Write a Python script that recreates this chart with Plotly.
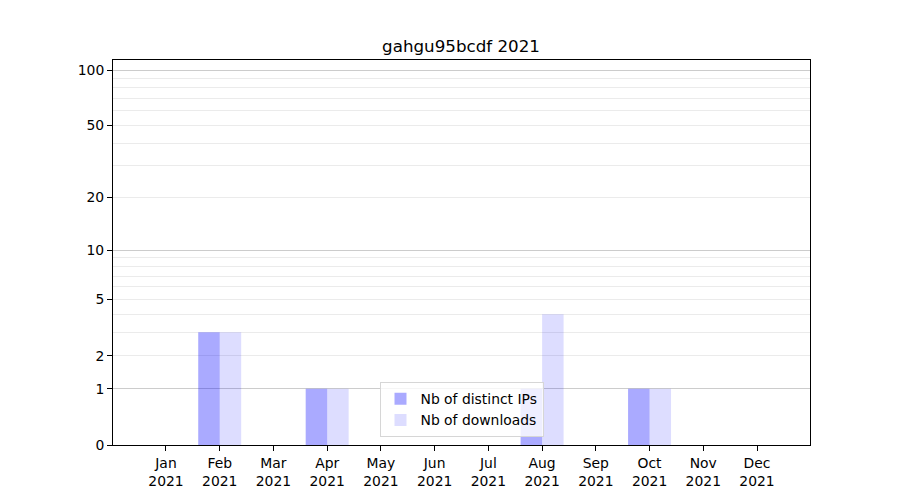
import numpy as np
import plotly.graph_objects as go

months = ["Jan", "Feb", "Mar", "Apr", "May", "Jun", "Jul", "Aug", "Sep", "Oct", "Nov", "Dec"]
year = "2021"
distinct_ips = [0, 3, 0, 1, 0, 0, 0, 1, 0, 1, 0, 0]
downloads = [0, 3, 0, 1, 0, 0, 0, 4, 0, 1, 0, 0]
ytick_vals = [0, 1, 2, 5, 10, 20, 50, 100]
major_grid_vals = [1, 10, 100]
minor_grid_vals = [2, 3, 4, 5, 6, 7, 8, 9, 20, 30, 40, 50, 60, 70, 80, 90]
title = "gahgu95bcdf 2021"


def tr(v):
    return np.log10(1 + np.asarray(v, dtype=float))


x = np.arange(len(months))
font = dict(family="DejaVu Sans", size=13.9, color="black")

fig = go.Figure()
fig.add_trace(go.Bar(x=x, y=tr(distinct_ips), width=0.4, offset=-0.4,
                     marker=dict(color="rgba(0,0,255,0.333)", line=dict(width=0)),
                     name="Nb of distinct IPs"))
fig.add_trace(go.Bar(x=x, y=tr(downloads), width=0.4, offset=0,
                     marker=dict(color="rgba(0,0,255,0.133)", line=dict(width=0)),
                     name="Nb of downloads"))
# invisible trace to activate the second y axis for major grid lines
fig.add_trace(go.Scatter(x=[0], y=[0], yaxis="y2", mode="markers",
                         marker=dict(opacity=0), showlegend=False, hoverinfo="skip"))

yrange = [0, 2.0578]
fig.update_layout(
    width=900, height=500,
    paper_bgcolor="white", plot_bgcolor="white",
    margin=dict(l=105, r=98, t=52, b=63),
    barmode="overlay",
    font=font,
    title=dict(text=title, x=(461 - 8) / 900, xanchor="center", y=1 - 38 / 500, yanchor="middle",
               font=dict(family="DejaVu Sans", size=16.7, color="black")),
    xaxis=dict(range=[-0.986, 11.986], tickmode="array", tickvals=x,
               ticktext=[f"{m}<br>{year}" for m in months],
               ticks="outside", ticklen=5, tickcolor="black", tickwidth=1,
               showline=True, linecolor="black", linewidth=1, mirror=True,
               showgrid=False, zeroline=False),
    yaxis=dict(range=yrange, tickmode="array", tickvals=tr(ytick_vals),
               ticktext=[str(v) for v in ytick_vals],
               ticks="outside", ticklen=5, tickcolor="black", tickwidth=1,
               showline=True, linecolor="black", linewidth=1, mirror=True,
               showgrid=False, zeroline=False,
               minor=dict(tickmode="array", tickvals=tr(minor_grid_vals), ticks="",
                          showgrid=True, gridcolor="#ebebeb", gridwidth=0.8)),
    yaxis2=dict(range=yrange, overlaying="y", tickmode="array",
                tickvals=tr(major_grid_vals), showticklabels=False, ticks="",
                showgrid=True, gridcolor="#cccccc", gridwidth=0.8,
                zeroline=False, showline=False),
    legend=dict(x=0.5, xanchor="center", y=0.02, yanchor="bottom",
                bgcolor="rgba(255,255,255,0.8)", bordercolor="#d6d6d6", borderwidth=1,
                font=dict(family="DejaVu Sans", size=13.9, color="black")),
    showlegend=True,
)

fig.write_html("out.html")
